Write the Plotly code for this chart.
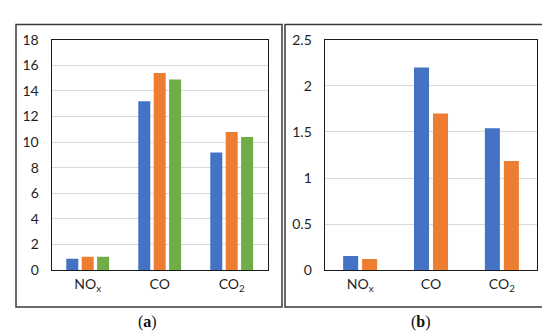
import plotly.graph_objects as go

categories = ["NO<sub>x</sub>", "CO", "CO<sub>2</sub>"]
left_s1 = [0.9, 13.2, 9.2]
left_s2 = [1.05, 15.4, 10.8]
left_s3 = [1.05, 14.9, 10.4]
right_s1 = [0.155, 2.2, 1.54]
right_s2 = [0.12, 1.7, 1.185]
left_ticks = [0, 2, 4, 6, 8, 10, 12, 14, 16, 18]
right_ticks = [0, 0.5, 1, 1.5, 2, 2.5]

BLUE = "#4472C4"
ORANGE = "#ED7D31"
GREEN = "#70AD47"
FONT = "Lato"
TXT = "#1f1f1f"

W, H = 550, 335

def px(x):
    return x / W

def py(y):
    return 1 - y / H

fig = go.Figure()

# left panel: 3 series
lw = 0.167
lslot = 0.214
for i, (vals, col) in enumerate([(left_s1, BLUE), (left_s2, ORANGE), (left_s3, GREEN)]):
    fig.add_trace(go.Bar(
        x=categories, y=vals, marker=dict(color=col, line=dict(width=0)),
        width=lw, offset=(i - 1) * lslot - lw / 2,
        xaxis="x", yaxis="y", showlegend=False, name=f"Series {i+1}"))

# right panel: 2 series
rw = 0.212
rslot = 0.268
for i, (vals, col) in enumerate([(right_s1, BLUE), (right_s2, ORANGE)]):
    fig.add_trace(go.Bar(
        x=categories, y=vals, marker=dict(color=col, line=dict(width=0)),
        width=rw, offset=(i - 0.5) * rslot - rw / 2,
        xaxis="x2", yaxis="y2", showlegend=False, name=f"Series {i+1}"))

axis_common = dict(showline=True, linecolor="#1a1a1a", linewidth=1.3, mirror=True,
                   tickfont=dict(family=FONT, size=14, color=TXT), ticks="")

fig.update_layout(
    width=W, height=H, margin=dict(l=0, r=0, t=0, b=0),
    paper_bgcolor="white", plot_bgcolor="white",
    barmode="overlay",
    xaxis=dict(domain=[px(43.7), px(259.7)], anchor="y", type="category",
               showgrid=False, ticklabelstandoff=1, **axis_common),
    yaxis=dict(domain=[py(266.7), py(24)], anchor="x", range=[0, 18],
               tickvals=left_ticks, showgrid=True, gridcolor="#d9d9d9", gridwidth=1,
               zeroline=False, ticklabelstandoff=9, **axis_common),
    xaxis2=dict(domain=[px(316.7), px(529.3)], anchor="y2", type="category",
                showgrid=False, ticklabelstandoff=1, **axis_common),
    yaxis2=dict(domain=[py(266.7), py(24)], anchor="x2", range=[0, 2.5],
                tickvals=right_ticks, showgrid=True, gridcolor="#d9d9d9", gridwidth=1,
                zeroline=False, ticklabelstandoff=9, **axis_common),
)

# outer panel frames
for x0, x1 in [(8, 274), (277, 544)]:
    fig.add_shape(type="rect", xref="paper", yref="paper",
                  x0=px(x0), x1=px(x1), y0=py(305.5), y1=py(8),
                  line=dict(color="#3a3a3a", width=1.5), fillcolor="rgba(0,0,0,0)", layer="below")

for label, xc in [("(<b>a</b>)", 140), ("(<b>b</b>)", 413)]:
    fig.add_annotation(text=label, xref="paper", yref="paper", x=px(xc), y=py(321.7),
                       showarrow=False, xanchor="center", yanchor="middle",
                       font=dict(family="Liberation Serif", size=16, color="#111"))

fig.write_html("out.html")
